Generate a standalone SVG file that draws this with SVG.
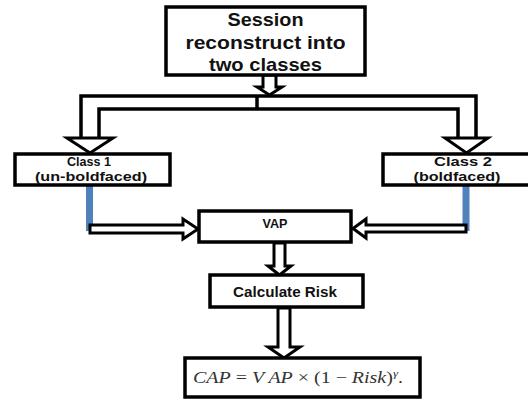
<svg xmlns="http://www.w3.org/2000/svg" width="528" height="402" viewBox="0 0 528 402">
<style>
.box{fill:#fff;stroke:#000;stroke-width:3.5}
.t{font-family:"Liberation Sans",Arial,sans-serif;font-weight:bold;fill:#111;text-anchor:middle}
.arr{fill:#fff;stroke:#000;stroke-width:3;stroke-linejoin:miter}
.ln{fill:none;stroke:#000;stroke-width:3.5}
.blue{stroke:#4f81bd;stroke-width:7;fill:none}
.m{font-family:"Liberation Serif","Times New Roman",serif;fill:#333;font-size:17px}
</style>
<rect width="528" height="402" fill="#fff"/>
<g id="connectors">
  <polygon class="arr" points="263,75 263,87 257,87 269.5,95 282,87 276,87 276,75"/>
  <path class="ln" d="M257,96 H81 V138 M257,109 H99 V138 M257,96 V109"/>
  <path class="ln" d="M257,96 H476 V138 M257,109 H458 V138"/>
  <polygon class="arr" points="67,138 113,138 90,153"/>
  <polygon class="arr" points="445,138 488,138 466.5,153"/>
  <line class="blue" x1="89.5" y1="186" x2="89.5" y2="231"/>
  <polygon class="arr" points="90,225 183,225 183,219 198,229 183,239 183,233 90,233"/>
  <line class="blue" x1="466" y1="186" x2="466" y2="231"/>
  <polygon class="arr" points="466,225 366,225 366,219 353,228.5 366,238 366,232 466,232"/>
  <polygon class="arr" points="274,243 274,266 268,266 279.5,275 291,266 285,266 285,243"/>
  <polygon class="arr" points="278,308 278,347 268,347 284,358 300,347 290,347 290,308"/>
</g>
<g id="session">
  <rect class="box" x="166" y="7" width="199" height="68"/>
  <text class="t" x="265.5" y="25.5" font-size="19" textLength="76" lengthAdjust="spacingAndGlyphs">Session</text>
  <text class="t" x="265.5" y="49" font-size="19" textLength="160" lengthAdjust="spacingAndGlyphs">reconstruct into</text>
  <text class="t" x="265.5" y="71" font-size="19" textLength="113" lengthAdjust="spacingAndGlyphs">two classes</text>
</g>
<g id="class1">
  <rect class="box" x="15" y="154" width="155" height="31"/>
  <text class="t" x="89" y="166" font-size="13" textLength="44" lengthAdjust="spacingAndGlyphs">Class 1</text>
  <text class="t" x="91" y="181" font-size="13" textLength="112" lengthAdjust="spacingAndGlyphs">(un-boldfaced)</text>
</g>
<g id="class2">
  <rect class="box" x="383" y="154" width="150" height="31"/>
  <text class="t" x="463" y="166" font-size="13" textLength="58" lengthAdjust="spacingAndGlyphs">Class 2</text>
  <text class="t" x="457" y="181" font-size="13" textLength="87" lengthAdjust="spacingAndGlyphs">(boldfaced)</text>
</g>
<g id="vap">
  <rect class="box" x="199" y="211" width="152" height="31"/>
  <text class="t" x="275" y="227.5" font-size="12.5" textLength="25" lengthAdjust="spacingAndGlyphs">VAP</text>
</g>
<g id="calc">
  <rect class="box" x="210" y="275" width="153" height="32"/>
  <text class="t" x="285" y="297" font-size="14.5" textLength="104" lengthAdjust="spacingAndGlyphs">Calculate Risk</text>
</g>
<g id="formula">
  <rect class="box" x="185" y="358" width="235" height="39"/>
  <text class="m" x="193" y="383" textLength="210" lengthAdjust="spacingAndGlyphs"><tspan font-style="italic">CAP</tspan> = <tspan font-style="italic">V AP</tspan> × (1 − <tspan font-style="italic">Risk</tspan>)<tspan font-style="italic" font-size="11" dy="-6">γ</tspan><tspan dy="6">.</tspan></text>
</g>
</svg>
